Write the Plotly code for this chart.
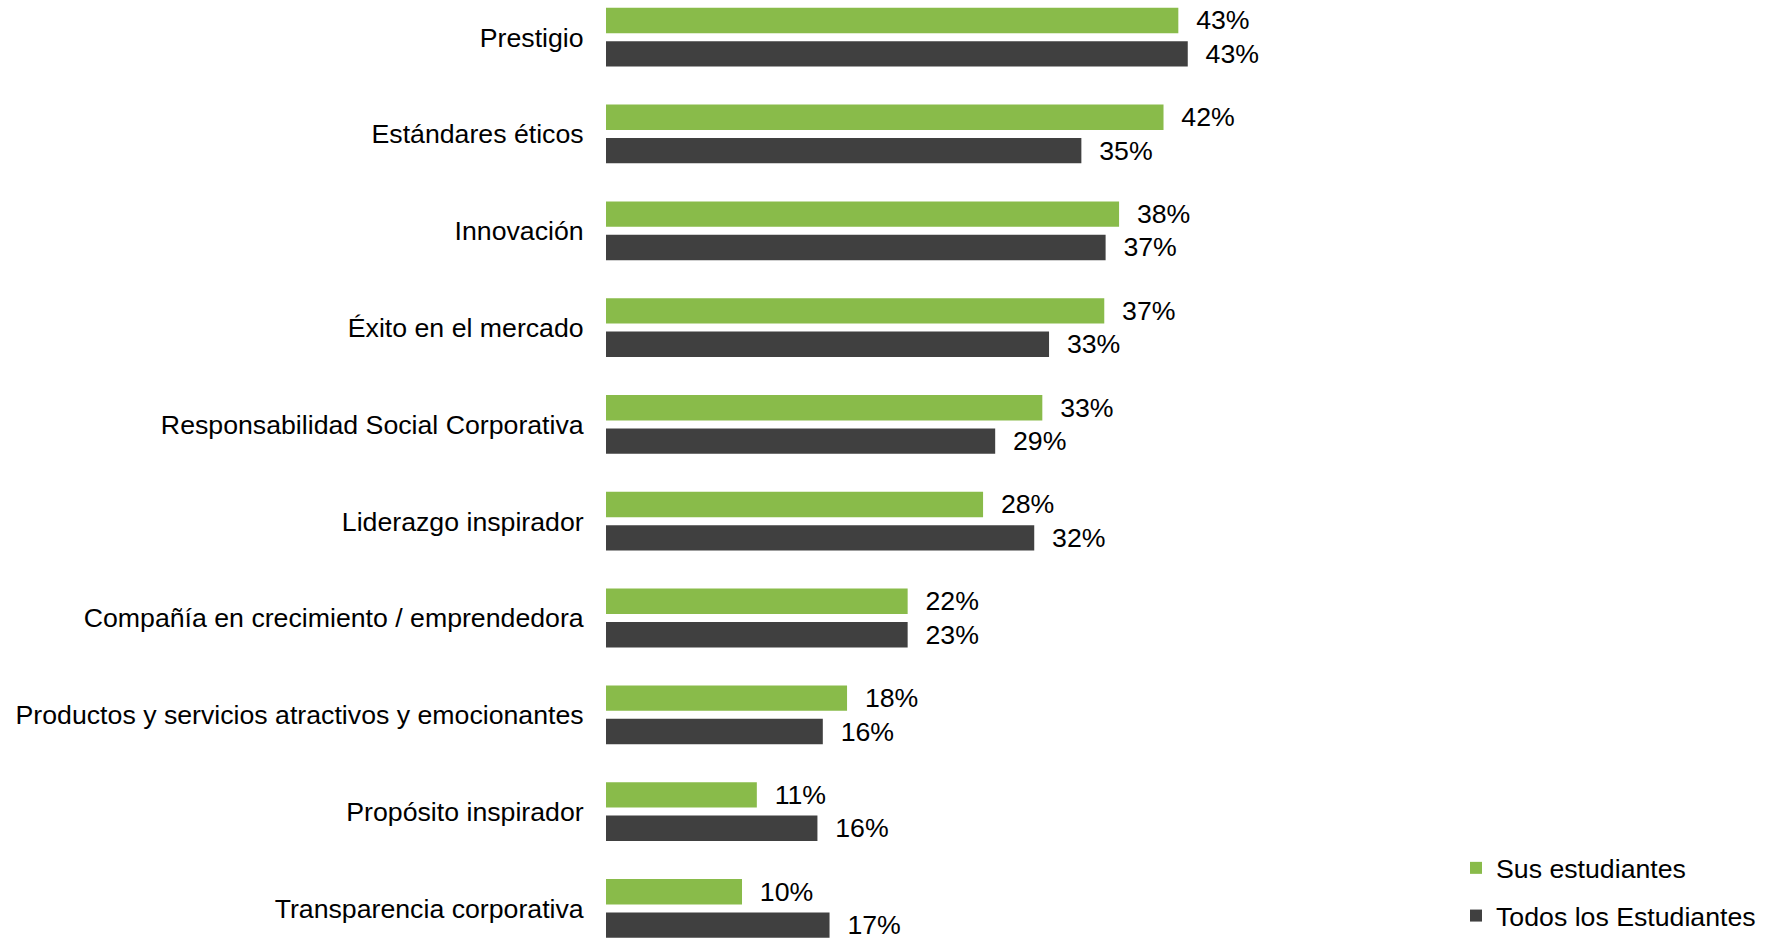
import plotly.graph_objects as go

categories = [
    "Prestigio",
    "Estándares éticos",
    "Innovación",
    "Éxito en el mercado",
    "Responsabilidad Social Corporativa",
    "Liderazgo inspirador",
    "Compañía en crecimiento / emprendedora",
    "Productos y servicios atractivos y emocionantes",
    "Propósito inspirador",
    "Transparencia corporativa",
]
sus_values = [42.5, 41.4, 38.1, 37.0, 32.4, 28.0, 22.4, 17.9, 11.2, 10.1]
sus_labels = ["43%", "42%", "38%", "37%", "33%", "28%", "22%", "18%", "11%", "10%"]
todos_values = [43.2, 35.3, 37.1, 32.9, 28.9, 31.8, 22.4, 16.1, 15.7, 16.6]
todos_labels = ["43%", "35%", "37%", "33%", "29%", "32%", "23%", "16%", "16%", "17%"]

GREEN = "#89BB4A"
DARK = "#404040"
FONT = "Liberation Sans, Arial, sans-serif"
FS = 26.7
pad = "\u00a0\u00a0"

fig = go.Figure()
fig.add_trace(go.Bar(
    y=categories, x=sus_values, orientation="h", name="Sus estudiantes",
    marker=dict(color=GREEN, line=dict(width=0)),
    text=[pad + t for t in sus_labels], textposition="outside",
    constraintext="none", cliponaxis=False,
    textfont=dict(size=FS, color="#000000", family=FONT),
    legendgroup="a",
))
fig.add_trace(go.Bar(
    y=categories, x=todos_values, orientation="h", name="Todos los Estudiantes",
    marker=dict(color=DARK, line=dict(width=0)),
    text=[pad + t for t in todos_labels], textposition="outside",
    constraintext="none", cliponaxis=False,
    textfont=dict(size=FS, color="#000000", family=FONT),
    legendgroup="b",
))

fig.update_layout(
    width=1774, height=940,
    margin=dict(l=606, r=360, t=0, b=0),
    paper_bgcolor="white", plot_bgcolor="white",
    barmode="group", bargap=0.31, bargroupgap=0.24,
    font=dict(family=FONT, size=FS, color="#000000"),
    xaxis=dict(range=[0, 60], visible=False, showgrid=False, zeroline=False),
    yaxis=dict(
        type="category", range=[9.316, -0.384],
        showgrid=False, zeroline=False, showline=False,
        ticks="outside", ticklen=16, tickcolor="rgba(0,0,0,0)",
        tickfont=dict(size=FS, family=FONT, color="#000000"),
    ),
    legend=dict(
        x=1.052, xanchor="left", y=0.101, yanchor="top",
        font=dict(size=FS, family=FONT, color="#000000"),
        traceorder="grouped", tracegroupgap=10,
        itemwidth=30, bgcolor="rgba(0,0,0,0)",
    ),
)

fig.write_html(
    "out.html",
    config={"displayModeBar": False},
    post_script="document.body.style.margin='0px'; document.body.style.overflow='hidden';",
)
